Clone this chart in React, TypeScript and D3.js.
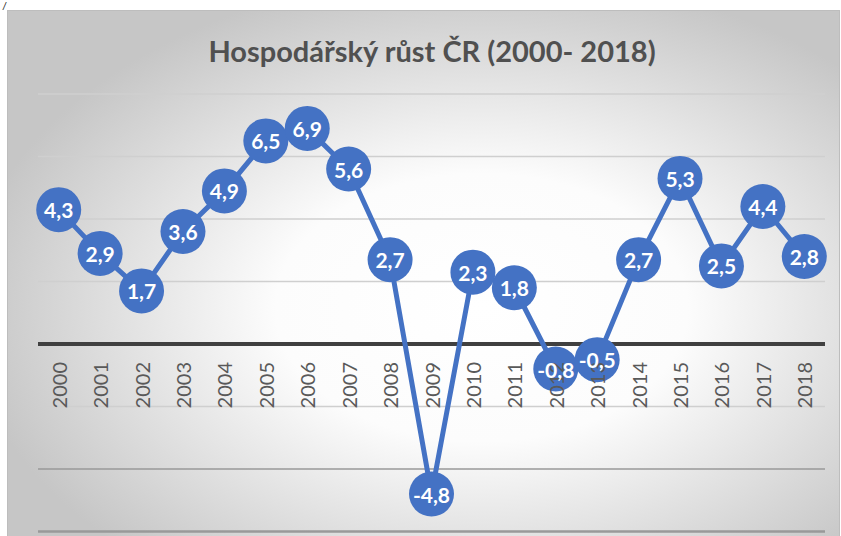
import React from "react";
import * as d3 from "d3";

const years = [
  "2000", "2001", "2002", "2003", "2004", "2005", "2006", "2007", "2008", "2009",
  "2010", "2011", "2012", "2013", "2014", "2015", "2016", "2017", "2018",
];
const growth = [4.3, 2.9, 1.7, 3.6, 4.9, 6.5, 6.9, 5.6, 2.7, -4.8, 2.3, 1.8, -0.8, -0.5, 2.7, 5.3, 2.5, 4.4, 2.8];
const yTicks = [-6, -4, -2, 0, 2, 4, 6, 8];
const title = "Hospodářský růst ČR (2000- 2018)";

const W = 841;
const H = 536;
const plot = { left: 38, right: 825, top: 94, bottom: 531.5 };
const blue = "#4472C4";
const font = "Lato, 'Open Sans', sans-serif";

export default function App() {
  const x = d3.scaleBand().domain(years).range([plot.left, plot.right]);
  const y = d3.scaleLinear().domain([-6, 8]).range([plot.bottom, plot.top]);
  const cx = (i: number) => (x(years[i]) as number) + x.bandwidth() / 2;
  const line = d3
    .line<number>()
    .x((_, i) => cx(i))
    .y((d) => y(d));
  const fmt = (v: number) => d3.format(".1f")(v).replace(".", ",").replace("−", "-");

  return (
    <svg width={W} height={H} style={{ position: "absolute", left: 0, top: 0 }}>
      <defs>
        <radialGradient id="bg" cx="0.57" cy="0.55" r="0.62">
          <stop offset="0" stopColor="#ffffff" />
          <stop offset="0.4" stopColor="#fcfcfc" />
          <stop offset="1" stopColor="#c6c6c6" />
        </radialGradient>
      </defs>
      <rect x={0} y={0} width={W} height={H} fill="#ffffff" />
      <text x={3} y={10} fontSize={10} fontStyle="italic" fill="#222" fontFamily="'Liberation Sans', sans-serif">/</text>
      <rect x={7.5} y={10.5} width={832} height={540} fill="url(#bg)" stroke="#bdbdbd" strokeWidth={1} />

      <text x={432} y={62} textAnchor="middle" fontFamily={font}
        fontWeight={700} fontSize={29} fill="#505050">{title}</text>

      {yTicks.filter((t) => t !== 0).map((t) => (
        <line key={t} x1={plot.left} x2={plot.right} y1={y(t)} y2={y(t)}
          stroke={t < -2 ? "#999999" : "#cfcfcf"} strokeWidth={t === -6 ? 2.5 : 1.6} />
      ))}
      <line x1={plot.left} x2={plot.right} y1={y(0)} y2={y(0)} stroke="#404040" strokeWidth={4} />

      <path d={line(growth) || ""} fill="none" stroke={blue} strokeWidth={5} strokeLinejoin="round" />

      {growth.map((v, i) => (
        <circle key={i} cx={cx(i)} cy={y(v)} r={22.5} fill={blue} />
      ))}

      {years.map((yr, i) => (
        <text key={yr} transform={`translate(${cx(i)},${y(0) + 18}) rotate(-90)`}
          textAnchor="end" dominantBaseline="central" fontFamily={font} fontSize={20} fill="#595959">
          {yr}
        </text>
      ))}

      {growth.map((v, i) => (
        <text key={i} x={cx(i)} y={y(v)} textAnchor="middle" dominantBaseline="central"
          fontFamily={font} fontWeight={700} fontSize={21} fill="#ffffff">
          {fmt(v)}
        </text>
      ))}
    </svg>
  );
}
